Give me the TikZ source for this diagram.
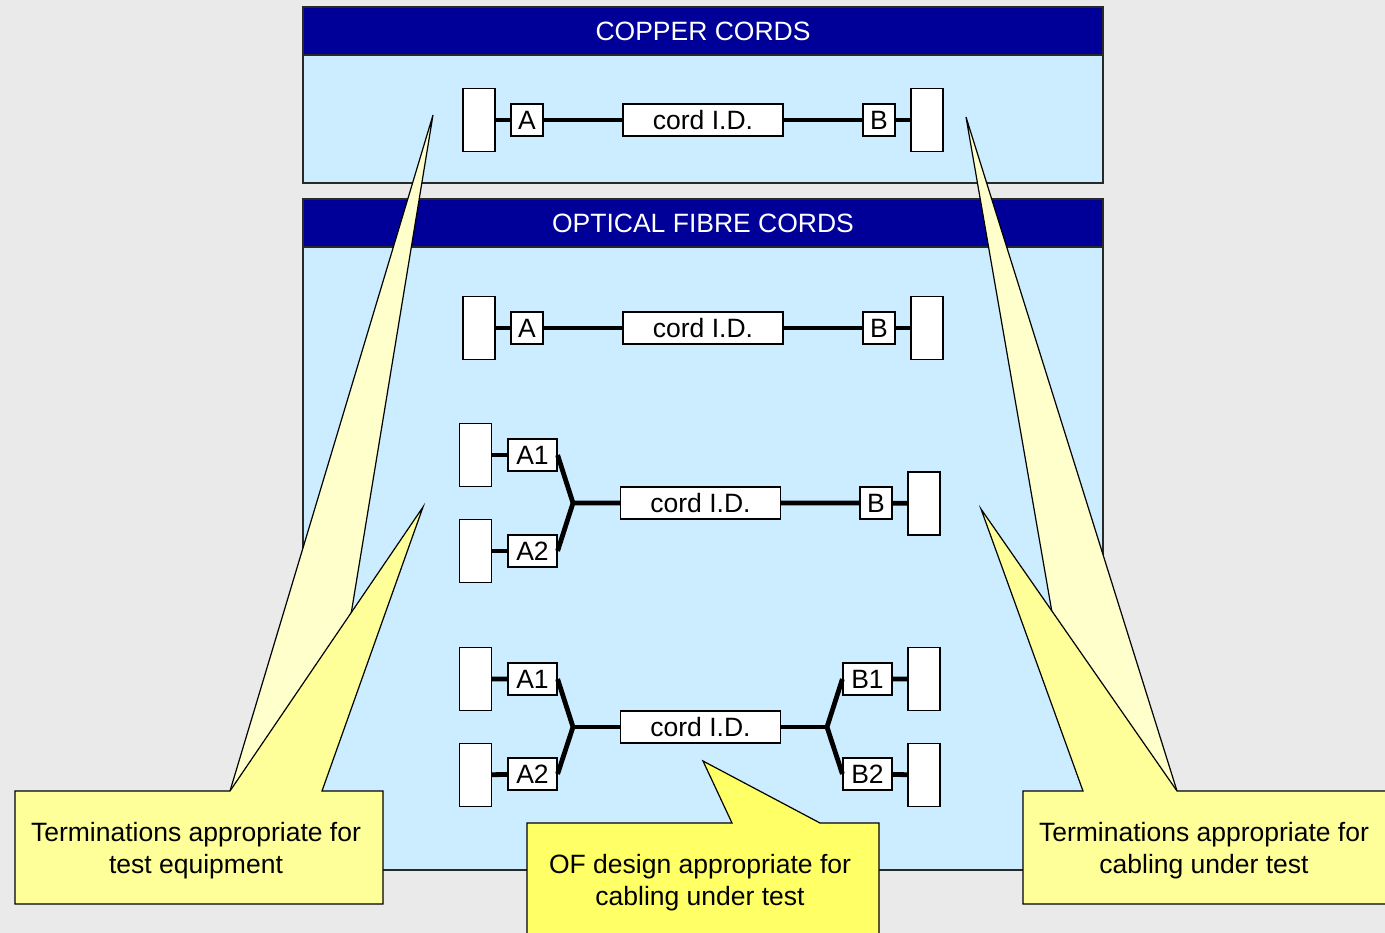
\documentclass[tikz,border=0pt]{standalone}
\usepackage{fontspec}
\setmainfont{Liberation Sans}
\usepackage{tikz}
\definecolor{pageGray}{RGB}{234, 234, 234}
\definecolor{headBlue}{RGB}{0, 0, 153}
\definecolor{panelBlue}{RGB}{204, 236, 255}
\definecolor{noteYellow}{RGB}{255, 255, 153}
\definecolor{paleYellow}{RGB}{255, 255, 204}
\definecolor{brightYellow}{RGB}{255, 255, 102}
\definecolor{edgeGray}{RGB}{40, 40, 40}

\begin{document}
\begin{tikzpicture}[x=1pt, y=-1pt,
    txt/.style={font=\fontsize{26.5}{32}\selectfont},
    term/.style={draw, fill=white, line width=1.2pt, minimum width=32pt, minimum height=63pt, inner sep=0pt},
    tag/.style={draw, fill=white, line width=1.2pt, minimum width=32pt, minimum height=32pt, inner sep=0pt, txt},
    tagwide/.style={tag, minimum width=49pt},
    cordid/.style={tag, minimum width=160pt},
    cable/.style={line width=4.8pt, line join=round},
    panel/.style={draw=edgeGray, line width=1.5pt},
    note/.style={draw=black, line width=1.2pt, line join=miter}]
    \useasboundingbox (0,0) rectangle (1385,933);
    \clip (0,0) rectangle (1385,933);
    \fill[pageGray] (0,0) rectangle (1385,933);

    % panels
    \filldraw[panel, fill=panelBlue] (303,55) rectangle (1103,183);
    \filldraw[panel, fill=headBlue] (303,7) rectangle (1103,55);
    \filldraw[panel, fill=panelBlue] (303,247) rectangle (1103,870);
    \filldraw[panel, fill=headBlue] (303,199) rectangle (1103,247);
    \node[txt, text=white] (copperHead) at (703,31) {COPPER CORDS};
    \node[txt, text=white] (fibreHead) at (703,223) {OPTICAL FIBRE CORDS};

    % copper cord
    \node[term] (cuTA) at (479,120) {};
    \node[tag] (cuA) at (527,120) {A};
    \node[cordid] (cuId) at (703,120) {cord I.D.};
    \node[tag] (cuB) at (879,120) {B};
    \node[term] (cuTB) at (927,120) {};
    \draw[cable] (cuTA) -- (cuA) (cuA) -- (cuId) (cuId) -- (cuB) (cuB) -- (cuTB);

    % fibre cord, simplex
    \node[term] (o1TA) at (479,328) {};
    \node[tag] (o1A) at (527,328) {A};
    \node[cordid] (o1Id) at (703,328) {cord I.D.};
    \node[tag] (o1B) at (879,328) {B};
    \node[term] (o1TB) at (927,328) {};
    \draw[cable] (o1TA) -- (o1A) (o1A) -- (o1Id) (o1Id) -- (o1B) (o1B) -- (o1TB);

    % fibre cord, split at A
    \node[term] (o2TA1) at (475.5,455) {};
    \node[term] (o2TA2) at (475.5,551) {};
    \node[tagwide] (o2A1) at (532.5,455) {A1};
    \node[tagwide] (o2A2) at (532.5,551) {A2};
    \coordinate (o2J) at (573,503);
    \node[cordid] (o2Id) at (700.5,503) {cord I.D.};
    \node[tag] (o2B) at (876,503) {B};
    \node[term] (o2TB) at (924,503.5) {};
    \draw[cable] (o2TA1) -- (o2A1) (o2TA2) -- (o2A2);
    \draw[cable] (o2A1.east) -- (o2J) -- (o2A2.east);
    \draw[cable] (o2J) -- (o2Id) (o2Id) -- (o2B) (o2B) -- (o2TB);

    % fibre cord, split at both ends
    \node[term] (o3TA1) at (475.5,679) {};
    \node[term] (o3TA2) at (475.5,775) {};
    \node[tagwide] (o3A1) at (532.5,679) {A1};
    \node[tagwide] (o3A2) at (532.5,774) {A2};
    \coordinate (o3JA) at (573,727);
    \node[cordid] (o3Id) at (700.5,727) {cord I.D.};
    \coordinate (o3JB) at (827,727);
    \node[tagwide] (o3B1) at (867.5,679) {B1};
    \node[tagwide] (o3B2) at (867.5,774) {B2};
    \node[term] (o3TB1) at (924,679) {};
    \node[term] (o3TB2) at (924,775) {};
    \draw[cable] (o3TA1) -- (o3A1) (o3TA2) -- (o3A2);
    \draw[cable] (o3A1.east) -- (o3JA) -- (o3A2.east);
    \draw[cable] (o3JA) -- (o3Id) (o3Id) -- (o3JB);
    \draw[cable] (o3B1.west) -- (o3JB) -- (o3B2.west);
    \draw[cable] (o3B1) -- (o3TB1) (o3B2) -- (o3TB2);

    % callouts
    \filldraw[note, fill=paleYellow] (230,791) -- (433,115) -- (322,791);
    \filldraw[note, fill=paleYellow] (1083,791) -- (966,117) -- (1177,791);
    \filldraw[note, fill=noteYellow] (15,791) -- (230,791) -- (423,507) -- (322,791)
        -- (383,791) -- (383,904) -- (15,904) -- cycle;
    \filldraw[note, fill=noteYellow] (1023,791) -- (1083,791) -- (981,509) -- (1177,791)
        -- (1400,791) -- (1400,904) -- (1023,904) -- cycle;
    \filldraw[note, fill=brightYellow] (527,823) -- (732,823) -- (703,761) -- (820,823)
        -- (879,823) -- (879,950) -- (527,950) -- cycle;
    \node[txt, align=center] (noteL) at (196,851) {Terminations appropriate for\\test equipment};
    \node[txt, align=center] (noteM) at (700,883) {OF design appropriate for\\cabling under test};
    \node[txt, align=center] (noteR) at (1204,851) {Terminations appropriate for\\cabling under test};
  \end{tikzpicture}
\end{document}
